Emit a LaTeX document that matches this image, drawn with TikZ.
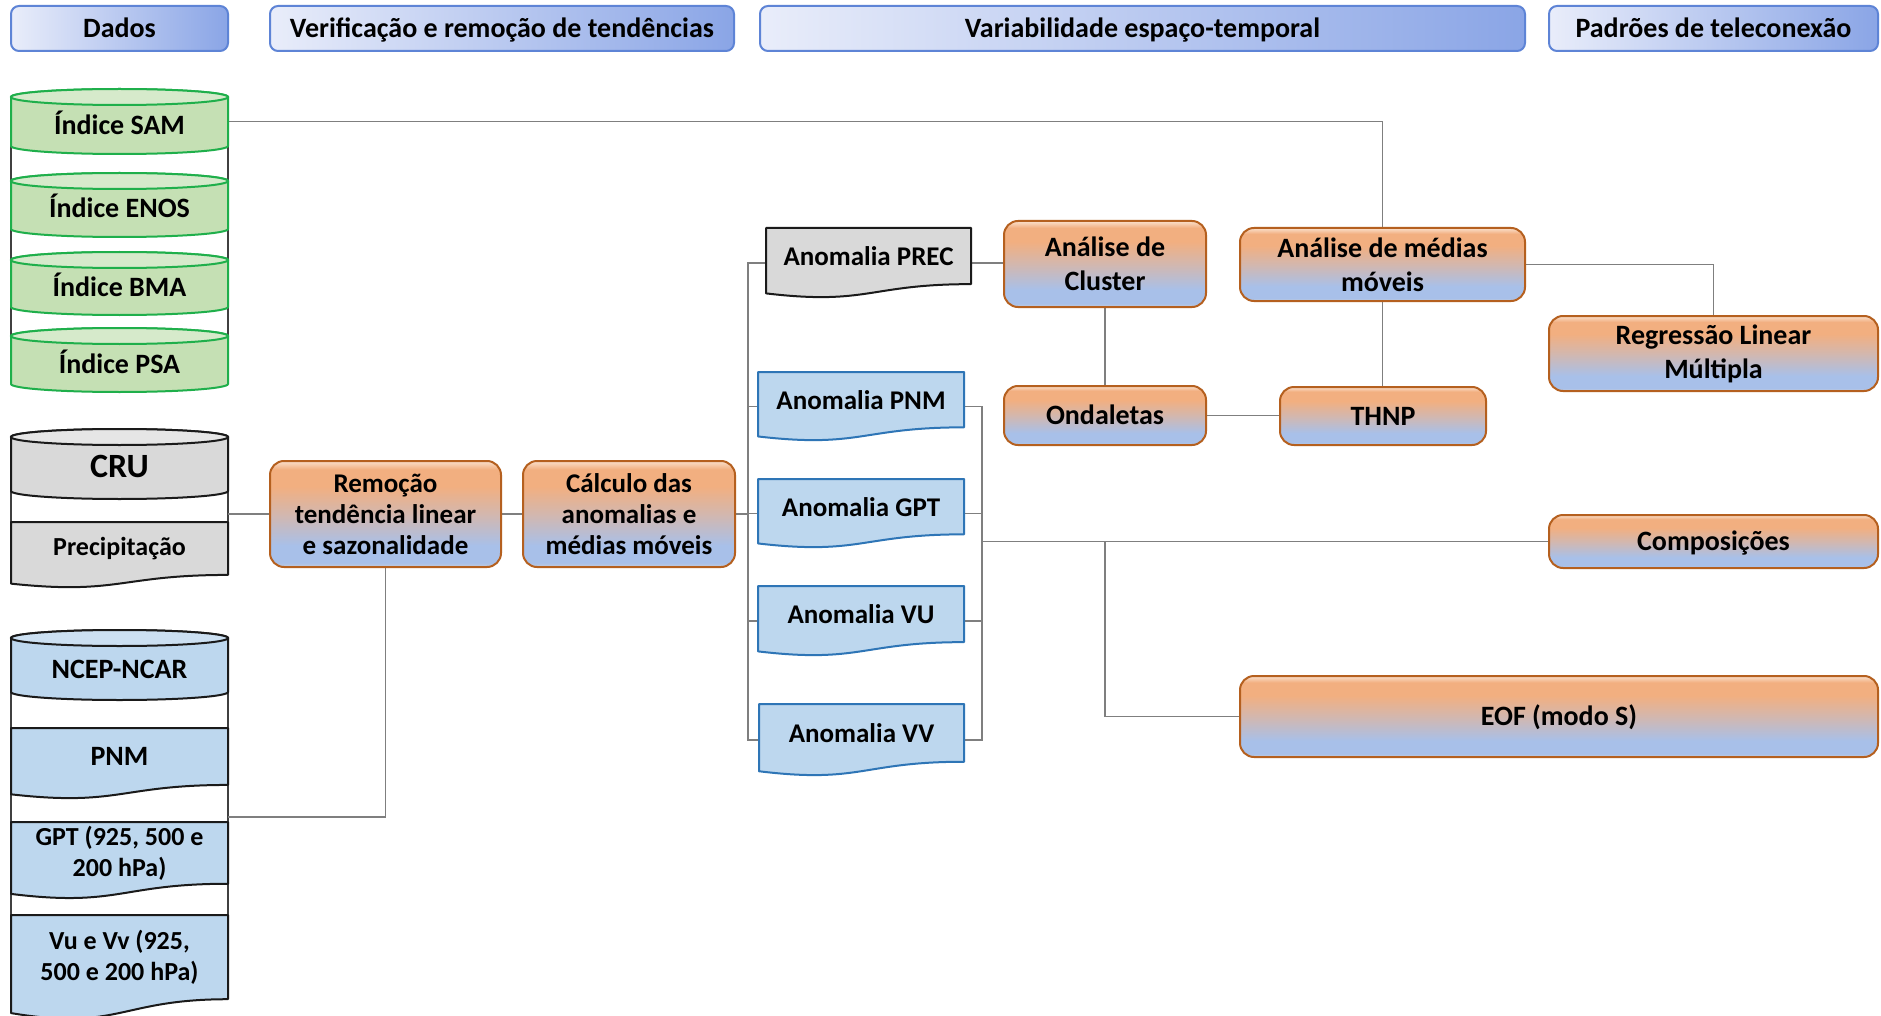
\documentclass[tikz,border=0pt]{standalone}
\usepackage{fontspec}
\setmainfont{Carlito}
\definecolor{obA}{HTML}{C5CCDA}
\definecolor{obB}{HTML}{A8C0E9}
\definecolor{obC}{HTML}{D3B7AE}
\definecolor{obD}{HTML}{F2AF80}
\definecolor{obE}{HTML}{FAE0CC}
\definecolor{obBorder}{HTML}{B5601F}
\definecolor{hdL}{HTML}{E9EDFA}
\definecolor{hdR}{HTML}{8AA5E6}
\definecolor{hdBorder}{HTML}{5E84D6}
\definecolor{connC}{HTML}{7F7F7F}
\definecolor{sideC}{HTML}{404040}
\definecolor{grnF}{HTML}{C5E0B4}
\definecolor{grnT}{HTML}{D6EACB}
\definecolor{grnD}{HTML}{1FAF4B}
\definecolor{grayF}{HTML}{D9D9D9}
\definecolor{grayT}{HTML}{E6E6E6}
\definecolor{bluF}{HTML}{BDD7EE}
\definecolor{bluT}{HTML}{CCE0F2}
\definecolor{anomD}{HTML}{2E75B6}
\definecolor{docD}{HTML}{1A1A1A}
\pgfdeclareverticalshading{oranblue}{100bp}{color(0bp)=(obA); color(25bp)=(obA); color(27bp)=(obB); color(35bp)=(obB); color(50bp)=(obC); color(63bp)=(obD); color(71bp)=(obD); color(75bp)=(obE); color(100bp)=(obE)}
\pgfdeclarelayer{bgA}
\pgfdeclarelayer{bgB}
\pgfsetlayers{bgA,bgB,main}
\newcommand\mycyl[9]{%
 \pgfmathsetmacro\cyA{(#4-#2)/2}%
 \pgfmathsetmacro\cyM{(#2+#4)/2}%
 \pgfmathsetmacro\cyT{-(#3)-8}%
 \pgfmathsetmacro\cyB{-(#5)+8}%
 \pgfmathsetmacro\cyC{-(#3+#5)/2}%
 \pgfmathsetmacro\cyX{-(#3+#5)/2-13}%
 \pgfmathsetmacro\cyW{#4-#2}%
 \pgfmathsetmacro\cyH{#5-#3}%
 \path[fill=#6,draw=#8,line width=2pt] (#2,\cyT) -- (#2,\cyB) arc[start angle=180,end angle=360,x radius=\cyA,y radius=8] -- (#4,\cyT) arc[start angle=0,end angle=180,x radius=\cyA,y radius=8] -- cycle;
 \path[fill=#7,draw=#8,line width=2pt] (\cyM,\cyT) ellipse[x radius=\cyA,y radius=8];
 \node[inner sep=0,outer sep=0,minimum width=\cyW pt,minimum height=\cyH pt] (#1) at (\cyM,\cyC) {};
 \node[txt,anchor=base] (#1-t) at (\cyM,\cyX) {#9};
}
\newcommand\mydoc[9]{%
 \pgfmathsetmacro\dcM{(#2+#4)/2}%
 \pgfmathsetmacro\dcR{-(#3+0.802*#5)}%
 \pgfmathsetmacro\dcP{-(#3+1.1075*#5)}%
 \pgfmathsetmacro\dcL{-(#3+0.934*#5)}%
 \pgfmathsetmacro\dcC{-(#3+#5/2)}%
 \pgfmathsetmacro\dcX{-(#3+0.401*#5)}%
 \pgfmathsetmacro\dcW{#4-#2}%
 \path[fill=#6,draw=#7,line width=2pt,line join=round] (#2,-#3) -- (#4,-#3) -- (#4,\dcR) .. controls (\dcM,\dcR) and (\dcM,\dcP) .. (#2,\dcL) -- cycle;
 \node[inner sep=0,outer sep=0,minimum width=\dcW pt,minimum height=#5 pt] (#1) at (\dcM,\dcC) {};
 \node[txt,#9] (#1-t) at (\dcM,\dcX) {#8};
}
\begin{document}
\begin{tikzpicture}[x=1pt,y=1pt,
 txt/.style={font=\fontsize{28}{34}\selectfont\bfseries,align=center,inner sep=0,text=black},
 small/.style={font=\fontsize{26}{31}\selectfont\bfseries},
 anom/.style={font=\fontsize{27}{32}\selectfont\bfseries},
 oneline/.style={text height=24pt,text depth=6pt},
 obox/.style={txt,rounded corners=14pt,draw=obBorder,line width=2pt,shade,shading=oranblue,inner sep=0,outer sep=0},
 hbox/.style={txt,oneline,rounded corners=8pt,draw=hdBorder,line width=2pt,left color=hdL,right color=hdR,inner sep=0,outer sep=0},
 conn/.style={draw=connC,line width=1.6pt},
 side/.style={draw=sideC,line width=1.3pt}]
\useasboundingbox (0,0) rectangle (1881,-1016);
\begin{pgfonlayer}{bgA}\fill[white] (0,0) rectangle (1881,-1016);\end{pgfonlayer}

% headers
\node[hbox,minimum width=217pt,minimum height=45pt] (hdados) at (119.5,-28.5) {Dados};
\node[hbox,minimum width=464pt,minimum height=45pt] (hverif) at (502,-28.5) {Verificação e remoção de tendências};
\node[hbox,minimum width=765pt,minimum height=45pt] (hvar) at (1142.5,-28.5) {Variabilidade espaço-temporal};
\node[hbox,minimum width=329pt,minimum height=45pt] (hpad) at (1713.5,-28.5) {Padrões de teleconexão};

% data column
\mycyl{sam}{11}{89}{228}{154}{grnF}{grnT}{grnD}{Índice SAM}
\mycyl{enos}{11}{173}{228}{237}{grnF}{grnT}{grnD}{Índice ENOS}
\mycyl{bma}{11}{252}{228}{315}{grnF}{grnT}{grnD}{Índice BMA}
\mycyl{psa}{11}{328}{228}{392}{grnF}{grnT}{grnD}{Índice PSA}
\mycyl{cru}{11}{429}{228}{499}{grayF}{grayT}{docD}{\fontsize{34}{40}\selectfont CRU}
\mydoc{precip}{11}{522}{228}{66}{grayF}{docD}{Precipitação}{small}
\mycyl{ncep}{11}{630}{228}{700}{bluF}{bluT}{docD}{NCEP-NCAR}
\mydoc{pnmd}{11}{728}{228}{71}{bluF}{docD}{PNM}{}
\mydoc{gptd}{11}{822}{228}{77}{bluF}{docD}{GPT (925, 500 e\\200 hPa)}{small}
\mydoc{vuvv}{11}{915}{228}{105}{bluF}{docD}{Vu e Vv (925,\\500 e 200 hPa)}{small}

% processing
\node[obox,minimum width=231pt,minimum height=106pt,font=\fontsize{27}{31}\selectfont\bfseries] (rem) at (385.5,-514) {Remoção\\tendência linear\\e sazonalidade};
\node[obox,minimum width=212pt,minimum height=106pt,font=\fontsize{27}{31}\selectfont\bfseries] (calc) at (629,-514) {Cálculo das\\anomalias e\\médias móveis};

% anomalies
\mydoc{prec}{766}{228}{971}{70}{grayF}{docD}{Anomalia PREC}{anom}
\mydoc{pnm}{758}{372}{964}{69}{bluF}{anomD}{Anomalia PNM}{anom}
\mydoc{gpt}{758}{479}{964}{69}{bluF}{anomD}{Anomalia GPT}{anom}
\mydoc{vu}{758}{586}{964}{70}{bluF}{anomD}{Anomalia VU}{anom}
\mydoc{vv}{759}{704}{964}{72}{bluF}{anomD}{Anomalia VV}{anom}

% analyses
\node[obox,minimum width=202pt,minimum height=86pt] (cluster) at (1105,-264) {Análise de\\Cluster};
\node[obox,minimum width=285pt,minimum height=73pt] (medias) at (1382.5,-264.5) {Análise de médias\\móveis};
\node[obox,oneline,minimum width=202pt,minimum height=59pt] (ondaletas) at (1105,-415.5) {Ondaletas};
\node[obox,oneline,minimum width=206pt,minimum height=58pt] (thnp) at (1383,-416) {THNP};
\node[obox,minimum width=329pt,minimum height=75pt] (regr) at (1713.5,-353.5) {Regressão Linear\\Múltipla};
\node[obox,oneline,minimum width=329pt,minimum height=53pt] (comp) at (1713.5,-541.5) {Composições};
\node[obox,oneline,minimum width=638pt,minimum height=81pt] (eof) at (1559,-716.5) {EOF (modo S)};

\coordinate (ncepj) at (228,-817);
\coordinate (busL) at (748,0);
\coordinate (busR) at (982,0);

\begin{pgfonlayer}{bgB}
 % group side lines
 \draw[side] (sam.west) -- (psa.west);
 \draw[side] (sam.east) -- (psa.east);
 \draw[side] (cru.west) -- (precip.west);
 \draw[side] (cru.east) -- (precip.east);
 \draw[side] (ncep.west) -- (vuvv.west);
 \draw[side] (ncep.east) -- (vuvv.east);
 % connectors
 \draw[conn] (sam.east) -| (medias.north);
 \draw[conn] (rem.west) -- (rem.west -| cru.east);
 \draw[conn] (rem.south) |- (ncepj);
 \draw[conn] (rem.east) -- (calc.west);
 \draw[conn] (calc.east) -- (calc.east -| busL);
 \draw[conn] (prec.west) -- (prec.west -| busL) -- (vv.west -| busL) -- (vv.west);
 \draw[conn] (pnm.west) -- (pnm.west -| busL);
 \draw[conn] (gpt.west) -- (gpt.west -| busL);
 \draw[conn] (vu.west) -- (vu.west -| busL);
 \draw[conn] (pnm.east) -- (pnm.east -| busR) -- (vv.east -| busR) -- (vv.east);
 \draw[conn] (gpt.east) -- (gpt.east -| busR);
 \draw[conn] (vu.east) -- (vu.east -| busR);
 \draw[conn] (busR |- comp.west) -- (comp.west);
 \draw[conn] (comp.west -| cluster.south) |- (eof.west);
 \draw[conn] (prec.east) -- (prec.east -| cluster.west);
 \draw[conn] (cluster.south) -- (ondaletas.north);
 \draw[conn] (ondaletas.east) -- (ondaletas.east -| thnp.west);
 \draw[conn] (medias.south) -- (medias.south |- thnp.north);
 \draw[conn] (medias.east) -| (regr.north);
\end{pgfonlayer}
\end{tikzpicture}
\end{document}
